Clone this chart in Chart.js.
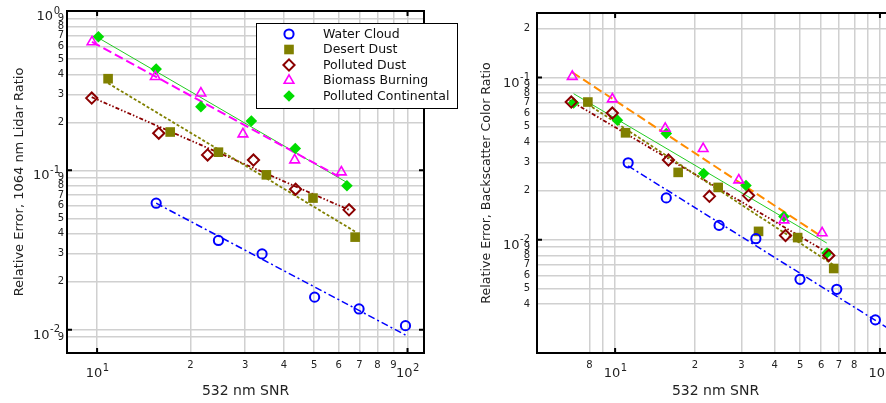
<!DOCTYPE html>
<html>
<head>
<meta charset="utf-8">
<script src="https://cdn.jsdelivr.net/npm/chart.js@4.4.0/dist/chart.umd.min.js"></script>
<style>
  html, body { margin:0; padding:0; background:#fff; overflow:hidden; }
  #wrap { position:relative; width:886px; height:403px; overflow:hidden; }
  #left { position:absolute; left:0; top:0; }
  #right { position:absolute; left:443px; top:0; }
</style>
</head>
<body>
<div id="wrap">
  <canvas id="left" width="470" height="403"></canvas>
  <canvas id="right" width="470" height="403"></canvas>
</div>
<script>
/* two log-log scatter panels: relative error vs 532 nm SNR */

const SERIES_NAMES = ['Water Cloud','Desert Dust','Polluted Dust','Biomass Burning','Polluted Continental'];

// ---- left panel: 1064 nm lidar ratio
const L_WC_X = [15.5, 24.6, 34.0, 50.2, 69.8, 98.5];
const L_WC_Y = [0.0622, 0.0363, 0.0299, 0.0160, 0.0135, 0.0106];
const L_DD_X = [10.85, 17.2, 24.6, 35.1, 49.6, 67.8];
const L_DD_Y = [0.376, 0.174, 0.130, 0.0937, 0.067, 0.0381];
const L_PD_X = [9.61, 15.8, 22.7, 31.9, 43.6, 64.8];
const L_PD_Y = [0.284, 0.171, 0.125, 0.116, 0.0762, 0.0565];
const L_BB_X = [9.63, 15.4, 21.6, 29.5, 43.3, 61.2];
const L_BB_Y = [0.640, 0.387, 0.305, 0.169, 0.116, 0.0975];
const L_PC_X = [10.1, 15.5, 21.6, 31.4, 43.5, 63.8];
const L_PC_Y = [0.690, 0.432, 0.251, 0.204, 0.137, 0.080];

// fit lines (end points)
const L_WC_FIT_X = [15.5, 100.4],  L_WC_FIT_Y = [0.0622, 0.00908];
const L_DD_FIT_X = [10.85, 67.8],  L_DD_FIT_Y = [0.352, 0.0413];
const L_PD_FIT_X = [9.61, 64.8],   L_PD_FIT_Y = [0.288, 0.0565];
const L_BB_FIT_X = [9.63, 60.1],   L_BB_FIT_Y = [0.640, 0.0914];
const L_PC_FIT_X = [10.1, 63.8],   L_PC_FIT_Y = [0.678, 0.0839];

// '' = decade, drawn as 10 with a raised exponent
const L_X_TICKS  = [10,20,30,40,50,60,70,80,90,100];
const L_X_LABELS = ['','2','3','4','5','6','7','8','9',''];
const L_Y_TICKS  = [0.009,0.01,0.02,0.03,0.04,0.05,0.06,0.07,0.08,0.09,0.1,0.2,0.3,0.4,0.5,0.6,0.7,0.8,0.9,1];
const L_Y_LABELS = ['9','','2','3','4','5','6','7','8','9','','2','3','4','5','6','7','8','9',''];

// ---- right panel: backscatter color ratio
const R_WC_X = [11.2, 15.6, 24.7, 34.0, 49.9, 68.7, 96.1];
const R_WC_Y = [0.0298, 0.0181, 0.01225, 0.01014, 0.00569, 0.00494, 0.0032];
const R_DD_X = [7.89, 10.95, 17.3, 24.5, 34.8, 48.9, 66.9];
const R_DD_Y = [0.0706, 0.0456, 0.0260, 0.0210, 0.01125, 0.0103, 0.00664];
const R_PD_X = [6.83, 9.76, 15.9, 22.7, 31.9, 44.0, 64.1];
const R_PD_Y = [0.0706, 0.0604, 0.0310, 0.0185, 0.0187, 0.0106, 0.0080];
const R_BB_X = [6.89, 9.76, 15.46, 21.5, 29.3, 43.4, 60.5];
const R_BB_Y = [0.1014, 0.0736, 0.0485, 0.0364, 0.0233, 0.0132, 0.0110];
const R_PC_X = [6.97, 10.2, 15.6, 21.6, 31.2, 43.4, 63.1];
const R_PC_Y = [0.0696, 0.0546, 0.0452, 0.0256, 0.0216, 0.0139, 0.00828];

const R_WC_FIT_X = [11.2, 110],   R_WC_FIT_Y = [0.0285, 0.00277];
const R_DD_FIT_X = [7.89, 66.9],  R_DD_FIT_Y = [0.0684, 0.00697];
const R_PD_FIT_X = [6.73, 64.0],  R_PD_FIT_Y = [0.0723, 0.00824];
const R_BB_FIT_X = [6.89, 60.5],  R_BB_FIT_Y = [0.1077, 0.0104];
const R_PC_FIT_X = [6.97, 63.0],  R_PC_FIT_Y = [0.0795, 0.00953];

const R_X_TICKS  = [8,9,10,20,30,40,50,60,70,80,90,100];
const R_X_LABELS = ['8','','','2','3','4','5','6','7','8','',''];
const R_Y_TICKS  = [0.004,0.005,0.006,0.007,0.008,0.009,0.01,0.02,0.03,0.04,0.05,0.06,0.07,0.08,0.09,0.1,0.2];
const R_Y_LABELS = ['4','5','6','7','8','9','','2','3','4','5','6','7','8','9','','2'];

const FONT = "'DejaVu Sans', Verdana, sans-serif";
Chart.defaults.font.family = FONT;
Chart.defaults.color = '#222';

const COL = { wc:'#0000ff', dd:'#808000', pd:'#8b0000', bb:'#ff00ff', bbFitR:'#ff8c00', pc:'#00dd00', pcFit:'#22cc22' };

const pts = (xs, ys) => xs.map((x,i)=>({x, y: ys[i]}));
const isMajor = v => Math.abs(Math.log10(v) - Math.round(Math.log10(v))) < 1e-9;

function markerSets(wcX,wcY,ddX,ddY,pdX,pdY,bbX,bbY,pcX,pcY){
  return [
    {label:SERIES_NAMES[0], data:pts(wcX,wcY), pointStyle:'circle', pointRadius:4.6, borderWidth:2,
     borderColor:COL.wc, backgroundColor:'rgba(0,0,0,0)'},
    {label:SERIES_NAMES[1], data:pts(ddX,ddY), pointStyle:'rect', pointRadius:6.8, borderWidth:0,
     borderColor:COL.dd, backgroundColor:COL.dd},
    {label:SERIES_NAMES[2], data:pts(pdX,pdY), pointStyle:'rectRot', pointRadius:5.6, borderWidth:2,
     borderColor:COL.pd, backgroundColor:'rgba(0,0,0,0)'},
    {label:SERIES_NAMES[3], data:pts(bbX,bbY), pointStyle:'triangle', pointRadius:5.6, borderWidth:1.6,
     borderColor:COL.bb, backgroundColor:'rgba(0,0,0,0)'},
    {label:SERIES_NAMES[4], data:pts(pcX,pcY), pointStyle:'rectRot', pointRadius:5.8, borderWidth:0,
     borderColor:COL.pc, backgroundColor:COL.pc}
  ].map(d => Object.assign(d, {showLine:false, pointHoverRadius:d.pointRadius}));
}

function fitSet(xs, ys, color, dash, width){
  return {label:'fit', data:pts(xs,ys), showLine:true, pointRadius:0, borderColor:color,
          borderWidth:width, borderDash:dash, fill:false, isFit:true};
}

// black frame plus inward ticks at the decades
const framePlugin = {
  id:'frame',
  afterDatasetsDraw(chart){
    const {ctx, chartArea:a, scales:{x, y}} = chart;
    ctx.save();
    ctx.strokeStyle = '#000';
    ctx.lineWidth = 2;
    ctx.beginPath();
    x.ticks.filter(t=>isMajor(t.value)).forEach(t=>{
      const p = x.getPixelForValue(t.value);
      ctx.moveTo(p, a.bottom); ctx.lineTo(p, a.bottom-5);
      ctx.moveTo(p, a.top); ctx.lineTo(p, a.top+5);
    });
    y.ticks.filter(t=>isMajor(t.value)).forEach(t=>{
      const p = y.getPixelForValue(t.value);
      ctx.moveTo(a.left, p); ctx.lineTo(a.left+5, p);
      ctx.moveTo(a.right, p); ctx.lineTo(a.right-5, p);
    });
    ctx.stroke();
    ctx.strokeRect(a.left, a.top, a.right-a.left, a.bottom-a.top);
    ctx.restore();
  }
};

// decade labels: "10" with a raised exponent
const decadeLabels = {
  id:'decadeLabels',
  afterDraw(chart){
    const {ctx, chartArea:a, scales:{x, y}} = chart;
    const big = '13px ' + FONT, small = '10px ' + FONT;
    ctx.save();
    ctx.fillStyle = '#222';
    ctx.textBaseline = 'alphabetic';
    x.ticks.filter(t=>isMajor(t.value)).forEach(t=>{
      const e = String(Math.round(Math.log10(t.value)));
      ctx.font = big;  const wb = ctx.measureText('10').width;
      ctx.font = small; const we = ctx.measureText(e).width;
      const px = x.getPixelForValue(t.value) - (wb + we) / 2;
      ctx.textAlign = 'left';
      ctx.font = big;  ctx.fillText('10', px, a.bottom + 24);
      ctx.font = small; ctx.fillText(e, px + wb + 0.5, a.bottom + 18);
    });
    y.ticks.filter(t=>isMajor(t.value)).forEach(t=>{
      const e = String(Math.round(Math.log10(t.value)));
      const py = y.getPixelForValue(t.value);
      ctx.textAlign = 'right';
      ctx.font = small; const we = ctx.measureText(e).width;
      ctx.fillText(e, a.left - 7, py + 2.5);
      ctx.font = big;  ctx.fillText('10', a.left - 7 - we - 0.5, py + 9);
    });
    ctx.restore();
  }
};

// legend box inside the left panel (markers only)
const boxLegend = {
  id:'boxLegend',
  afterDraw(chart, args, opts){
    if(!opts.show) return;
    const ctx = chart.ctx;
    const bx = 256, by = 23, bw = 201, bh = 85, rowH = 15.5;
    ctx.save();
    ctx.fillStyle = '#fff';
    ctx.fillRect(bx, by, bw, bh);
    ctx.strokeStyle = '#000';
    ctx.lineWidth = 1;
    ctx.strokeRect(bx+0.5, by+0.5, bw, bh);
    ctx.font = '12.5px ' + FONT;
    ctx.textBaseline = 'middle';
    chart.data.datasets.filter(d=>!d.isFit).forEach((d,i)=>{
      const cy = by + 11 + i*rowH;
      ctx.fillStyle = d.backgroundColor;
      ctx.strokeStyle = d.borderColor;
      ctx.lineWidth = d.borderWidth;
      Chart.helpers.drawPoint(ctx, {pointStyle:d.pointStyle, radius:d.pointRadius, rotation:0, borderWidth:d.borderWidth}, 289, cy);
      ctx.fillStyle = '#111';
      ctx.fillText(d.label, 323, cy+0.5);
    });
    ctx.restore();
  }
};

function logAxis(min, max, ticks, labels, title, titleSize, titlePad, tickPad){
  return {
    type:'logarithmic', min, max, bounds:'data',
    afterBuildTicks: s => { s.ticks = ticks.map(v=>({value:v, major:isMajor(v)})); },
    grid:{ color:'#d0d0d0', lineWidth:1.5, drawTicks:false },
    border:{ display:false },
    ticks:{
      autoSkip:false, maxRotation:0, padding:tickPad, color:'#222',
      font:{size:10},
      callback: (v, i) => labels[i]
    },
    title:{ display:true, text:title, color:'#222', font:{size:titleSize}, padding:titlePad }
  };
}

function makeChart(id, datasets, xAxis, yAxis, padding, yWidth, xHeight, legend){
  xAxis.afterFit = s => { s.height = xHeight; };
  yAxis.afterFit = s => { s.width = yWidth; };
  return new Chart(document.getElementById(id), {
    type:'scatter',
    data:{ datasets },
    options:{
      responsive:false, animation:false, devicePixelRatio:1,
      layout:{ padding },
      scales:{ x:xAxis, y:yAxis },
      plugins:{ legend:{display:false}, tooltip:{enabled:false}, boxLegend:{show:legend} }
    },
    plugins:[framePlugin, decadeLabels, boxLegend]
  });
}

// left chart
makeChart('left',
  markerSets(L_WC_X,L_WC_Y,L_DD_X,L_DD_Y,L_PD_X,L_PD_Y,L_BB_X,L_BB_Y,L_PC_X,L_PC_Y).concat([
    fitSet(L_WC_FIT_X, L_WC_FIT_Y, COL.wc, [7,3,2,3], 1.5),
    fitSet(L_DD_FIT_X, L_DD_FIT_Y, COL.dd, [3,2], 1.8),
    fitSet(L_PD_FIT_X, L_PD_FIT_Y, COL.pd, [4,2,1.5,2,1.5,2], 1.8),
    fitSet(L_BB_FIT_X, L_BB_FIT_Y, COL.bb, [9,4], 2),
    fitSet(L_PC_FIT_X, L_PC_FIT_Y, COL.pcFit, [], 1)
  ]),
  logAxis(8, 113, L_X_TICKS, L_X_LABELS, '532 nm SNR', 14, {top:0, bottom:3}, 6),
  logAxis(0.00714, 1, L_Y_TICKS, L_Y_LABELS, 'Relative Error, 1064 nm Lidar Ratio', 13, {top:12, bottom:0}, 3),
  {left:0, top:11, right:46, bottom:0}, 67, 50, true);

// right chart
makeChart('right',
  markerSets(R_WC_X,R_WC_Y,R_DD_X,R_DD_Y,R_PD_X,R_PD_Y,R_BB_X,R_BB_Y,R_PC_X,R_PC_Y).concat([
    fitSet(R_WC_FIT_X, R_WC_FIT_Y, COL.wc, [7,3,2,3], 1.5),
    fitSet(R_DD_FIT_X, R_DD_FIT_Y, COL.dd, [3,2], 1.8),
    fitSet(R_PD_FIT_X, R_PD_FIT_Y, COL.pd, [4,2,1.5,2,1.5,2], 1.8),
    fitSet(R_BB_FIT_X, R_BB_FIT_Y, COL.bbFitR, [9,4], 2),
    fitSet(R_PC_FIT_X, R_PC_FIT_Y, COL.pcFit, [], 1)
  ]),
  logAxis(5.07, 113, R_X_TICKS, R_X_LABELS, '532 nm SNR', 14, {top:0, bottom:3}, 6),
  logAxis(0.002, 0.25, R_Y_TICKS, R_Y_LABELS, 'Relative Error, Backscatter Color Ratio', 12.6, {top:36, bottom:0}, 7),
  {left:0, top:11, right:19, bottom:0}, 94, 50, false);
</script>
</body>
</html>
